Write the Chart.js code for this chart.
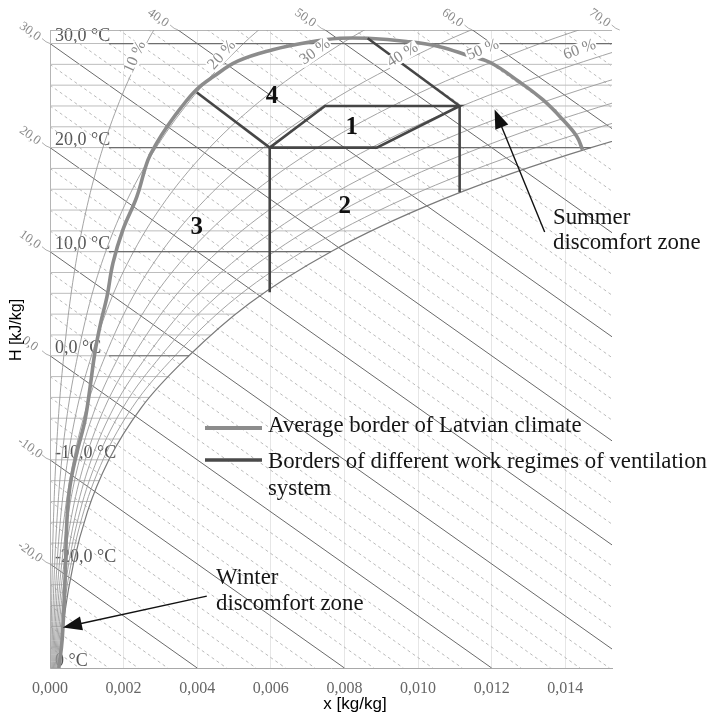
<!DOCTYPE html>
<html>
<head>
<meta charset="utf-8">
<title>Mollier chart – Latvian climate</title>
<script src="https://cdn.jsdelivr.net/npm/chart.js@4.4.1/dist/chart.umd.min.js"></script>
<style>
  html, body { margin: 0; padding: 0; background: #fff; }
</style>
</head>
<body>
<canvas id="mollier" width="710" height="717"></canvas>
<script>
// ---- axes ----
const xTicks = [0, 0.002, 0.004, 0.006, 0.008, 0.010, 0.012, 0.014];
const yTicks = [-30, -20, -10, 0, 10, 20, 30];
const yTickLabels = ['0 °C', '-20,0 °C', '-10,0 °C', '0,0 °C', '10,0 °C', '20,0 °C', '30,0 °C'];

// ---- relative humidity curves: x [kg/kg] read at these temperatures ----
const rhTemps = [-30, -25, -20, -15, -10, -5, 0, 5, 10, 15, 20, 25, 30, 32];
const rh10 = [0.0000233, 0.0000389, 0.0000635, 0.000101, 0.00016, 0.000247, 0.000375, 0.000536, 0.000755, 0.001049, 0.001439, 0.001952, 0.002618, 0.002935];
const rh20 = [0.0000467, 0.0000777, 0.000127, 0.000203, 0.000319, 0.000494, 0.000751, 0.001073, 0.001512, 0.002101, 0.002885, 0.003916, 0.005258, 0.005898];
const rh30 = [0.00007, 0.000117, 0.000191, 0.000304, 0.000479, 0.00074, 0.001127, 0.001611, 0.00227, 0.003157, 0.004338, 0.005892, 0.007921, 0.008889];
const rh40 = [0.0000933, 0.000155, 0.000254, 0.000406, 0.000639, 0.000988, 0.001504, 0.00215, 0.003031, 0.004216, 0.005798, 0.007882, 0.010606, 0.01191];
const rh50 = [0.000117, 0.000194, 0.000318, 0.000507, 0.000799, 0.001235, 0.001881, 0.00269, 0.003793, 0.00528, 0.007264, 0.009884, 0.013314, 0.014959];
const rh60 = [0.00014, 0.000233, 0.000381, 0.000608, 0.000958, 0.001483, 0.002259, 0.003231, 0.004557, 0.006347, 0.008737, 0.011898, 0.016046, 0.018037];
const rh70 = [0.000163, 0.000272, 0.000445, 0.00071, 0.00112, 0.001731, 0.002638, 0.003773, 0.005323, 0.007417, 0.010217, 0.013925, 0.018801, 0.021145];
const rh80 = [0.000187, 0.000311, 0.000508, 0.000811, 0.00128, 0.00198, 0.003017, 0.004316, 0.006091, 0.008491, 0.011704, 0.015966, 0.02158, 0.024283];
const rh90 = [0.00021, 0.00035, 0.000572, 0.000913, 0.00144, 0.002228, 0.003397, 0.004859, 0.006861, 0.009569, 0.013198, 0.018019, 0.024383, 0.027455];
const rh100 = [0.000233, 0.000389, 0.000636, 0.001016, 0.0016, 0.002477, 0.003775, 0.005404, 0.007632, 0.01065, 0.014699, 0.020086, 0.027211, 0.030654];
const rhLabels = ['10 %', '20 %', '30 %', '40 %', '50 %', '60 %'];
const rhLabelX = [0.00231, 0.00467, 0.0072, 0.00958, 0.01176, 0.01439];
const rhLabelT = [28.7, 28.9, 29.2, 28.9, 29.4, 29.4];

// ---- isotherms (every 2 °C), ending on the saturation line ----
const isoTemps = [-30, -28, -26, -24, -22, -20, -18, -16, -14, -12, -10, -8, -6, -4, -2, 0,
                  2, 4, 6, 8, 10, 12, 14, 16, 18, 20, 22, 24, 26, 28, 30];
const isoEnds = [0.000233, 0.000287, 0.000351, 0.000428, 0.000522, 0.000636, 0.000769, 0.000928, 0.001115, 0.001337,
                 0.0016, 0.001907, 0.002272, 0.002695, 0.003194, 0.003775, 0.004364, 0.005034, 0.005795, 0.006657,
                 0.007632, 0.008732, 0.009973, 0.011368, 0.012939, 0.014699, 0.0155, 0.0155, 0.0155, 0.0155, 0.0155];
const isoLabelled = [0, 10, 20, 30];
const isoLabelledEnds = [0.003775, 0.007632, 0.014699, 0.0155];

// ---- isenthalps: value on the left axis and foot on the bottom axis ----
const enthalpySolid = [-20, -10, 0, 10, 20, 30, 40, 50, 60];
const enthalpySolidFoot = [0.004, 0.008, 0.012, 0.016, 0.020, 0.024, 0.028, 0.032, 0.036];
const enthalpyDashed = [-28, -26, -24, -22, -18, -16, -14, -12, -8, -6, -4, -2, 2, 4, 6, 8, 12, 14, 16, 18,
                        22, 24, 26, 28, 32, 34, 36, 38, 42, 44, 46, 48, 52, 54, 56, 58, 62, 64, 66, 68];
const enthalpyDashedFoot = [0.0008, 0.0016, 0.0024, 0.0032, 0.0048, 0.0056, 0.0064, 0.0072, 0.0088, 0.0096,
                            0.0104, 0.0112, 0.0128, 0.0136, 0.0144, 0.0152, 0.0168, 0.0176, 0.0184, 0.0192,
                            0.0208, 0.0216, 0.0224, 0.0232, 0.0248, 0.0256, 0.0264, 0.0272, 0.0288, 0.0296,
                            0.0304, 0.0312, 0.0328, 0.0336, 0.0344, 0.0352, 0.0368, 0.0376, 0.0384, 0.0392];
const enthalpyLabels = ['-20,0', '-10,0', '0,0', '10,0', '20,0', '30,0', '40,0', '50,0', '60,0', '70,0'];
const enthalpyLabelX = [0, 0, 0, 0, 0, 0, 0.00348, 0.00748, 0.01148, 0.01548];
const enthalpyLabelT = [-20, -10, 0, 10, 20, 30, 31.3, 31.3, 31.3, 31.3];

// ---- average border of Latvian climate ----
const latviaX = [0.00024, 0.00033, 0.00041, 0.00046, 0.00054, 0.00073, 0.00095, 0.00109, 0.00122, 0.00138,
                 0.00155, 0.00171, 0.00198, 0.00236, 0.00266, 0.00291, 0.00318, 0.00353, 0.00399, 0.00443,
                 0.0051, 0.00605, 0.00698, 0.00787, 0.00863, 0.00969, 0.01059, 0.0114, 0.01195, 0.01276,
                 0.01339, 0.01393, 0.01431, 0.01447];
const latviaT = [-30.0, -27.3, -21.5, -15.8, -12.6, -9.3, -6.2, -3.0, 0.3, 3.2,
                 5.7, 8.9, 12.1, 15.3, 18.8, 20.5, 22.0, 23.7, 25.6, 26.8,
                 28.3, 29.4, 30.1, 30.5, 30.5, 30.2, 29.7, 28.8, 28.2, 26.3,
                 24.6, 22.7, 21.1, 19.8];

// ---- borders of the work regimes of the ventilation system ----
const regimeTopX = [0.00863, 0.01113];
const regimeTopT = [30.5, 24.0];
const regimeBoxX = [0.00597, 0.00747, 0.01113, 0.00888, 0.00597];
const regimeBoxT = [20.0, 24.0, 24.0, 20.0, 20.0];
const regimeRightX = [0.01113, 0.01113];
const regimeRightT = [24.0, 15.7];
const regimeLeftX = [0.00597, 0.00597];
const regimeLeftT = [20.0, 6.1];
const regimeZone4X = [0.00399, 0.00597];
const regimeZone4T = [25.3, 20.0];

const zoneNames = ['1', '2', '3', '4'];
const zoneX = [0.0082, 0.00801, 0.00399, 0.00603];
const zoneT = [21.9, 14.3, 12.3, 24.9];

const SERIF = '"Liberation Serif", "Times New Roman", serif';
const SANS = '"Liberation Sans", Arial, sans-serif';

function pts(xs, ys) {
    return xs.map((x, i) => ({x: x, y: ys[i]}));
}

const datasets = [];

// regime borders on top
[[regimeTopX, regimeTopT], [regimeBoxX, regimeBoxT], [regimeRightX, regimeRightT],
 [regimeLeftX, regimeLeftT], [regimeZone4X, regimeZone4T]].forEach(function(r) {
    datasets.push({data: pts(r[0], r[1]), borderColor: '#464646', borderWidth: 2.6, tension: 0});
});

datasets.push({data: pts(latviaX, latviaT), borderColor: '#8c8c8c', borderWidth: 3.6, tension: 0.4});

// labelled isotherms, darker after the label
isoLabelled.forEach(function(t, i) {
    datasets.push({data: [{x: 0.0016, y: t}, {x: isoLabelledEnds[i], y: t}], borderColor: '#6e6e6e', borderWidth: 1.2});
});

[rh10, rh20, rh30, rh40, rh50, rh60, rh70, rh80, rh90, rh100].forEach(function(xs, i) {
    datasets.push({
        data: pts(xs, rhTemps),
        borderColor: i === 9 ? '#7a7a7a' : '#9a9a9a',
        borderWidth: i === 9 ? 1.2 : 0.9,
        cubicInterpolationMode: 'monotone'
    });
});

isoTemps.forEach(function(t, i) {
    datasets.push({data: [{x: 0, y: t}, {x: isoEnds[i], y: t}], borderColor: '#bdbdbd', borderWidth: 1});
});

enthalpySolid.forEach(function(h, i) {
    datasets.push({data: [{x: 0, y: h}, {x: enthalpySolidFoot[i], y: -30}], borderColor: '#6a6a6a', borderWidth: 1});
});

enthalpyDashed.forEach(function(h, i) {
    datasets.push({data: [{x: 0, y: h}, {x: enthalpyDashedFoot[i], y: -30}], borderColor: '#a8a8a8',
                   borderWidth: 0.8, borderDash: [3, 3]});
});

function drawArrow(ctx, x1, y1, x2, y2) {
    const a = Math.atan2(y2 - y1, x2 - x1);
    const c = Math.cos(a), s = Math.sin(a);
    ctx.beginPath();
    ctx.moveTo(x1, y1);
    ctx.lineTo(x2 - 14 * c, y2 - 14 * s);
    ctx.stroke();
    ctx.beginPath();
    ctx.moveTo(x2, y2);
    ctx.lineTo(x2 - 19 * c + 7 * s, y2 - 19 * s - 7 * c);
    ctx.lineTo(x2 - 19 * c - 7 * s, y2 - 19 * s + 7 * c);
    ctx.closePath();
    ctx.fill();
}

const overlay = {
    id: 'overlay',
    beforeDatasetsDraw(chart) {
        const ctx = chart.ctx, a = chart.chartArea;
        ctx.save();
        ctx.strokeStyle = '#b5b5b5';
        ctx.lineWidth = 1;
        ctx.beginPath();
        ctx.moveTo(a.left, a.top + 0.5);
        ctx.lineTo(a.right, a.top + 0.5);
        ctx.stroke();
        ctx.restore();
    },
    afterDraw(chart) {
        const ctx = chart.ctx;
        const sx = chart.scales.x, sy = chart.scales.y;
        ctx.save();

        // enthalpy labels, tilted along the isenthalps
        ctx.font = '13px ' + SERIF;
        ctx.fillStyle = '#8a8a8a';
        ctx.strokeStyle = '#9a9a9a';
        ctx.lineWidth = 0.8;
        enthalpyLabels.forEach(function(t, i) {
            const ax = sx.getPixelForValue(enthalpyLabelX[i]);
            const ay = sy.getPixelForValue(enthalpyLabelT[i]);
            ctx.beginPath();
            ctx.moveTo(ax - 8, ay - 5);
            ctx.quadraticCurveTo(ax - 4, ay - 1, ax, ay);
            ctx.stroke();
            ctx.save();
            ctx.translate(ax - 20, ay - 12);
            ctx.rotate(35 * Math.PI / 180);
            ctx.textAlign = 'center';
            ctx.textBaseline = 'middle';
            ctx.fillText(t, 0, 0);
            ctx.restore();
        });

        // relative humidity labels
        const rhRot = [-66, -48, -36, -32, -22, -20];
        ctx.font = '16px ' + SERIF;
        rhLabels.forEach(function(t, i) {
            ctx.save();
            ctx.translate(sx.getPixelForValue(rhLabelX[i]), sy.getPixelForValue(rhLabelT[i]));
            ctx.rotate(rhRot[i] * Math.PI / 180);
            const w = ctx.measureText(t).width;
            ctx.fillStyle = '#fff';
            ctx.fillRect(-w / 2 - 1, -7, w + 2, 14);
            ctx.fillStyle = '#8a8a8a';
            ctx.textAlign = 'center';
            ctx.textBaseline = 'middle';
            ctx.fillText(t, 0, 0);
            ctx.restore();
        });

        // zone numbers
        ctx.font = 'bold 25px ' + SERIF;
        ctx.fillStyle = '#111';
        ctx.textAlign = 'center';
        ctx.textBaseline = 'middle';
        zoneNames.forEach(function(t, i) {
            ctx.fillText(t, sx.getPixelForValue(zoneX[i]), sy.getPixelForValue(zoneT[i]));
        });

        // legend
        ctx.lineCap = 'butt';
        ctx.strokeStyle = '#8c8c8c';
        ctx.lineWidth = 4;
        ctx.beginPath(); ctx.moveTo(205, 428); ctx.lineTo(262, 428); ctx.stroke();
        ctx.strokeStyle = '#4a4a4a';
        ctx.lineWidth = 3.5;
        ctx.beginPath(); ctx.moveTo(205, 460); ctx.lineTo(262, 460); ctx.stroke();
        ctx.font = '22.8px ' + SERIF;
        ctx.fillStyle = '#151515';
        ctx.textAlign = 'left';
        ctx.fillText('Average border of Latvian climate', 268, 426);
        ctx.fillText('Borders of different work regimes of ventilation', 268, 462);
        ctx.fillText('system', 268, 489);

        // discomfort zones
        ctx.fillText('Summer', 553, 218);
        ctx.fillText('discomfort zone', 553, 243);
        ctx.fillText('Winter', 216, 578);
        ctx.fillText('discomfort zone', 216, 604);
        ctx.strokeStyle = '#111';
        ctx.fillStyle = '#111';
        ctx.lineWidth = 1.4;
        drawArrow(ctx, sx.getPixelForValue(0.01344), sy.getPixelForValue(11.9),
                  sx.getPixelForValue(0.01208), sy.getPixelForValue(23.65));
        drawArrow(ctx, sx.getPixelForValue(0.00426), sy.getPixelForValue(-23.1),
                  sx.getPixelForValue(0.00035), sy.getPixelForValue(-26.1));

        // axis titles
        ctx.fillStyle = '#000';
        ctx.font = '17px ' + SANS;
        ctx.textAlign = 'center';
        ctx.fillText('x [kg/kg]', 355, 704);
        ctx.save();
        ctx.translate(17, 330);
        ctx.rotate(-Math.PI / 2);
        ctx.font = '16px ' + SANS;
        ctx.fillText('H [kJ/kg]', 0, 0);
        ctx.restore();

        ctx.restore();
    }
};

const chart = new Chart(document.getElementById('mollier').getContext('2d'), {
    type: 'line',
    data: {datasets: datasets},
    options: {
        responsive: false,
        animation: false,
        devicePixelRatio: 1,
        events: [],
        layout: {padding: {top: 30, right: 98, left: 0, bottom: 0}},
        elements: {point: {radius: 0}, line: {fill: false}},
        plugins: {legend: {display: false}, tooltip: {enabled: false}},
        scales: {
            x: {
                type: 'linear',
                min: 0,
                max: 0.01527,
                afterBuildTicks: function(scale) {
                    scale.ticks = xTicks.map(v => ({value: v}));
                },
                afterFit: function(scale) { scale.height = 49; },
                grid: {color: '#e6e6e6', drawTicks: false},
                border: {color: '#a8a8a8'},
                ticks: {
                    padding: 11,
                    color: '#666',
                    font: {family: SERIF, size: 16},
                    callback: v => v.toFixed(3).replace('.', ',')
                }
            },
            y: {
                type: 'linear',
                min: -30,
                max: 31.3,
                afterBuildTicks: function(scale) {
                    scale.ticks = yTicks.map(v => ({value: v}));
                },
                afterFit: function(scale) { scale.width = 50; },
                grid: {display: false},
                border: {color: '#b5b5b5'},
                ticks: {
                    mirror: true,
                    padding: 5,
                    labelOffset: -7,
                    color: '#555',
                    font: {family: SERIF, size: 18},
                    callback: function(v, i) { return yTickLabels[i]; }
                }
            }
        }
    },
    plugins: [overlay]
});
</script>
</body>
</html>
